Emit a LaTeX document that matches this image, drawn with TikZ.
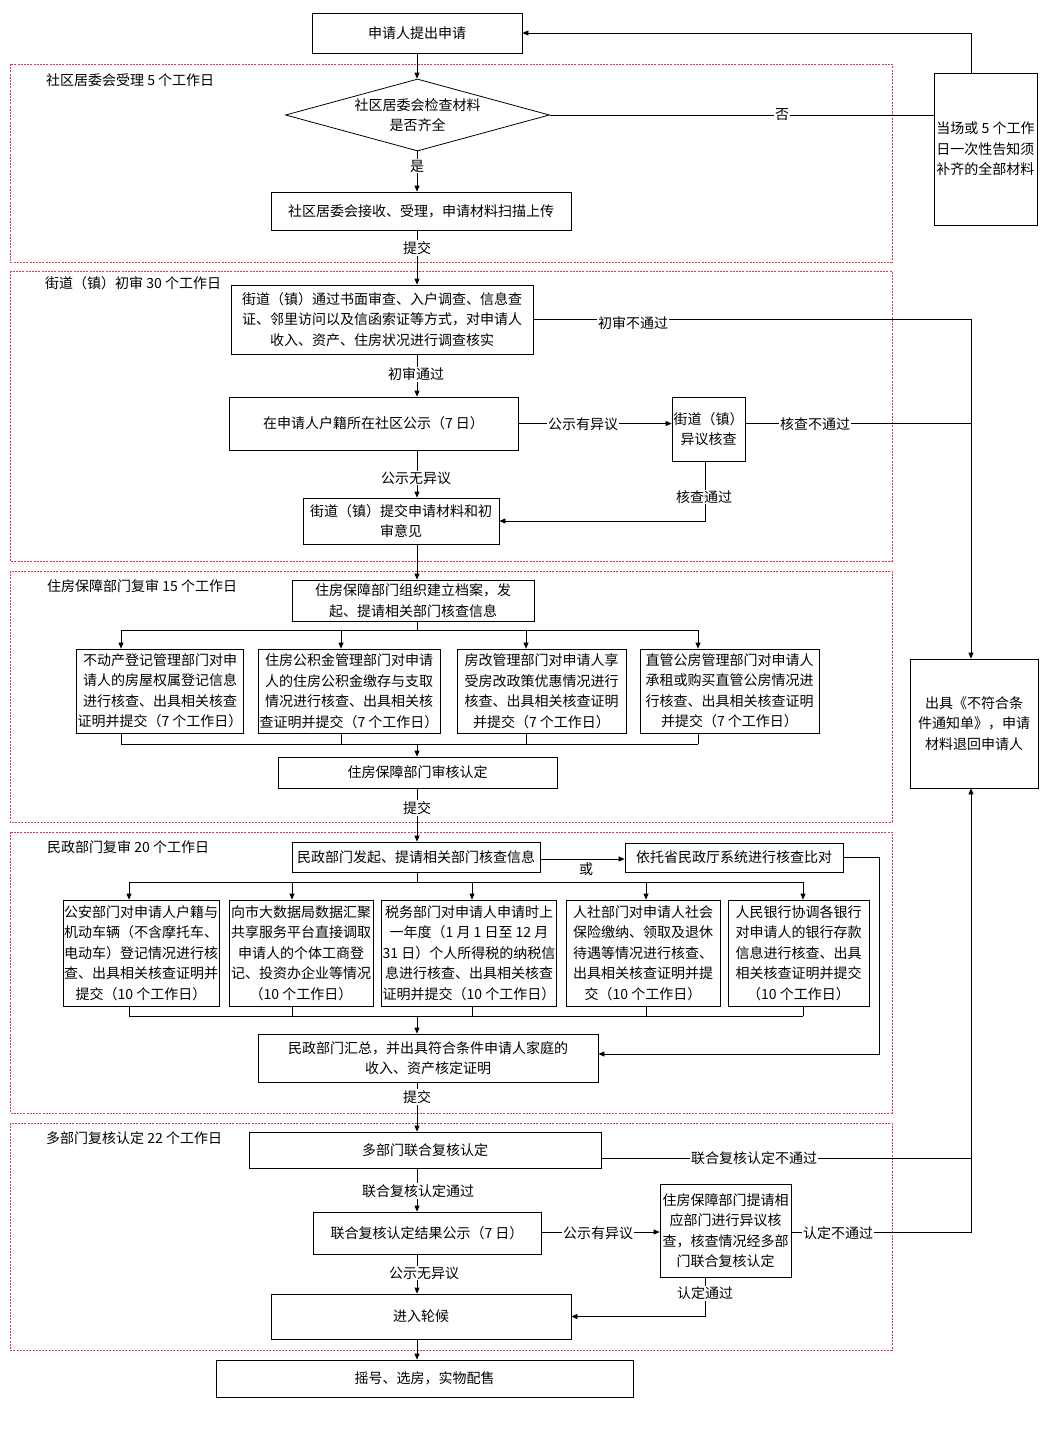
\documentclass[tikz,border=0pt]{standalone}
\usepackage{fontspec}
\setmainfont{Noto Sans CJK SC}
\usetikzlibrary{arrows.meta,shapes.geometric}
\newcommand\myfs{\fontsize{14pt}{20.5pt}\selectfont}
\definecolor{secred}{RGB}{215,60,80}
\begin{document}
\begin{tikzpicture}[x=1pt,y=-1pt,
 every node/.style={font=\myfs},
 box/.style={draw, line width=0.8pt, inner sep=1pt, align=center},
 bx/.style n args={2}{box, minimum width=#1, minimum height=#2},
 lbl/.style={fill=white, inner sep=1pt},
 ln/.style={line width=0.8pt},
 arr/.style={line width=0.8pt, -{Triangle[length=6pt,width=5pt]}},
 sec/.style={draw=secred, line width=0.7pt, dash pattern=on 2pt off 1.2pt},
 seclbl/.style={anchor=west, inner sep=0pt}]

\fill[white] (0,0) rectangle (1055,1441);
\useasboundingbox (0,0) rectangle (1055,1441);

% section frames
\draw[sec] (10,64) rectangle (892,262);
\draw[sec] (10,271) rectangle (892,561);
\draw[sec] (10,571) rectangle (892,822);
\draw[sec] (10,832) rectangle (892,1113);
\draw[sec] (10,1123) rectangle (892,1350);

\node[seclbl] (t1) at (46,80) {社区居委会受理 5 个工作日};
\node[seclbl] (t2) at (45,283) {街道（镇）初审 30 个工作日};
\node[seclbl] (t3) at (47,586) {住房保障部门复审 15 个工作日};
\node[seclbl] (t4) at (47,847) {民政部门复审 20 个工作日};
\node[seclbl] (t5) at (46,1138) {多部门复核认定 22 个工作日};

% helper coordinates
\coordinate (sp) at (417,0);
\coordinate (rx) at (971,0);
\coordinate (px) at (879,0);

% nodes
\node[bx={210pt}{40pt}] (apply) at (417,33) {申请人提出申请};
\node[draw, diamond, line width=0.8pt, aspect=3.6, minimum width=264pt, minimum height=72pt, inner sep=0pt, align=center] (check) at (417.5,115) {社区居委会检查材料\\是否齐全};
\node[bx={103pt}{152pt}, align=left] (notice) at (985.5,149) {当场或 5 个工作\\日一次性告知须\\补齐的全部材料};
\node[bx={300pt}{38pt}] (accept) at (421,211) {社区居委会接收、受理，申请材料扫描上传};

\node[bx={302pt}{69pt}] (street) at (382,319.5) {街道（镇）通过书面审查、入户调查、信息查\\证、邻里访问以及信函索证等方式，对申请人\\收入、资产、住房状况进行调查核实};
\node[bx={289pt}{53pt}] (publicize) at (373.5,423.5) {在申请人户籍所在社区公示（7 日）};
\node[bx={73pt}{64pt}] (objcheck) at (708.5,429) {街道（镇）\\异议核查};
\node[bx={196pt}{46pt}] (submit1) at (401,521) {街道（镇）提交申请材料和初\\审意见};

\node[bx={242pt}{41pt}] (archive) at (413,600.5) {住房保障部门组织建立档案，发\\起、提请相关部门核查信息};
\node[bx={166pt}{84pt}] (B1) at (160,691) {不动产登记管理部门对申\\请人的房屋权属登记信息\\进行核查、出具相关核查\\证明并提交（7 个工作日）};
\node[bx={182pt}{84pt}] (B2) at (349,691) {住房公积金管理部门对申请\\人的住房公积金缴存与支取\\情况进行核查、出具相关核\\查证明并提交（7 个工作日）};
\node[bx={169pt}{84pt}] (B3) at (541.5,691) {房改管理部门对申请人享\\受房改政策优惠情况进行\\核查、出具相关核查证明\\并提交（7 个工作日）};
\node[bx={179pt}{84pt}] (B4) at (729.5,691) {直管公房管理部门对申请人\\承租或购买直管公房情况进\\行核查、出具相关核查证明\\并提交（7 个工作日）};
\node[bx={279pt}{31pt}] (housing) at (417.5,772.5) {住房保障部门审核认定};

\node[bx={128pt}{129pt}] (reject) at (974,723.5) {出具《不符合条\\件通知单》，申请\\材料退回申请人};

\node[bx={248pt}{30pt}] (civil) at (416,857) {民政部门发起、提请相关部门核查信息};
\node[bx={218pt}{29pt}] (province) at (734,857.5) {依托省民政厅系统进行核查比对};
\node[bx={156pt}{106pt}] (C1) at (141,953) {公安部门对申请人户籍与\\机动车辆（不含摩托车、\\电动车）登记情况进行核\\查、出具相关核查证明并\\提交（10 个工作日）};
\node[bx={144pt}{106pt}] (C2) at (301,953) {向市大数据局数据汇聚\\共享服务平台直接调取\\申请人的个体工商登\\记、投资办企业等情况\\（10 个工作日）};
\node[bx={174pt}{106pt}] (C3) at (469,953) {税务部门对申请人申请时上\\一年度（1 月 1 日至 12 月\\31 日）个人所得税的纳税信\\息进行核查、出具相关核查\\证明并提交（10 个工作日）};
\node[bx={154pt}{106pt}] (C4) at (643,953) {人社部门对申请人社会\\保险缴纳、领取及退休\\待遇等情况进行核查、\\出具相关核查证明并提\\交（10 个工作日）};
\node[bx={141pt}{106pt}] (C5) at (798.5,953) {人民银行协调各银行\\对申请人的银行存款\\信息进行核查、出具\\相关核查证明并提交\\（10 个工作日）};
\node[bx={340pt}{48pt}] (summary) at (428,1058) {民政部门汇总，并出具符合条件申请人家庭的\\收入、资产核定证明};

\node[bx={352pt}{36pt}] (joint) at (425,1150) {多部门联合复核认定};
\node[bx={228pt}{42pt}] (jointpub) at (427,1233) {联合复核认定结果公示（7 日）};
\node[bx={131pt}{93pt}] (objverify) at (725.5,1230.5) {住房保障部门提请相\\应部门进行异议核\\查，核查情况经多部\\门联合复核认定};
\node[bx={300pt}{45pt}] (queue) at (421,1316.5) {进入轮候};
\node[bx={417pt}{37pt}] (lottery) at (424.5,1378.5) {摇号、选房，实物配售};

% bus coordinates
\coordinate (ha1) at (121,630);
\coordinate (ha2) at (341,630);
\coordinate (ha3) at (526,630);
\coordinate (ha4) at (698,630);
\coordinate (hb1) at (121,744);
\coordinate (hb2) at (341,744);
\coordinate (hb3) at (526,744);
\coordinate (hb4) at (698,744);
\coordinate (ca1) at (129,882);
\coordinate (ca2) at (292,882);
\coordinate (ca3) at (472,882);
\coordinate (ca4) at (646,882);
\coordinate (ca5) at (803,882);
\coordinate (cb1) at (129,1016);
\coordinate (cb2) at (292,1016);
\coordinate (cb3) at (472,1016);
\coordinate (cb4) at (646,1016);
\coordinate (cb5) at (803,1016);

% connectors: section 1
\draw[arr] (sp |- apply.south) -- (sp |- check.north);
\draw[arr] (sp |- check.south) -- (sp |- accept.north);
\draw[ln] (check.east) -- (notice.west |- check.east);
\draw[arr] (rx |- notice.north) -- (rx |- apply.east) -- (apply.east);
\draw[arr] (sp |- accept.south) -- (sp |- street.north);

% section 2
\draw[arr] (street.east) -- (rx |- street.east) -- (rx |- reject.north);
\draw[arr] (sp |- street.south) -- (sp |- publicize.north);
\draw[arr] (publicize.east) -- (objcheck.west |- publicize.east);
\draw[ln] (objcheck.east |- publicize.east) -- (rx |- publicize.east);
\draw[arr] ([xshift=-3.5pt]objcheck.south) |- (submit1.east);
\draw[arr] (sp |- publicize.south) -- (sp |- submit1.north);
\draw[arr] (sp |- submit1.south) -- (sp |- archive.north);

% section 3
\draw[ln] (sp |- archive.south) -- (sp |- ha1);
\draw[ln] (ha1) -- (ha4);
\draw[arr] (ha1) -- (ha1 |- B1.north);
\draw[arr] (ha2) -- (ha2 |- B2.north);
\draw[arr] (ha3) -- (ha3 |- B3.north);
\draw[arr] (ha4) -- (ha4 |- B4.north);
\draw[ln] (hb1 |- B1.south) -- (hb1);
\draw[ln] (hb2 |- B2.south) -- (hb2);
\draw[ln] (hb3 |- B3.south) -- (hb3);
\draw[ln] (hb4 |- B4.south) -- (hb4);
\draw[ln] (hb1) -- (hb4);
\draw[arr] (sp |- hb1) -- (sp |- housing.north);
\draw[arr] (sp |- housing.south) -- (sp |- civil.north);

% section 4
\draw[arr] ([yshift=-2pt]civil.east) -- ([yshift=-2pt]province.west |- civil.east);
\draw[arr] (province.east) -- (px |- province.east) -- ([yshift=4pt]px |- summary.east) -- ([yshift=4pt]summary.east);
\draw[ln] (sp |- civil.south) -- (sp |- ca1);
\draw[ln] (ca1) -- (ca5);
\draw[arr] (ca1) -- (ca1 |- C1.north);
\draw[arr] (ca2) -- (ca2 |- C2.north);
\draw[arr] (ca3) -- (ca3 |- C3.north);
\draw[arr] (ca4) -- (ca4 |- C4.north);
\draw[arr] (ca5) -- (ca5 |- C5.north);
\draw[ln] (cb1 |- C1.south) -- (cb1);
\draw[ln] (cb2 |- C2.south) -- (cb2);
\draw[ln] (cb3 |- C3.south) -- (cb3);
\draw[ln] (cb4 |- C4.south) -- (cb4);
\draw[ln] (cb5 |- C5.south) -- (cb5);
\draw[ln] (cb1) -- (cb5);
\draw[arr] (sp |- cb1) -- (sp |- summary.north);
\draw[arr] (sp |- summary.south) -- (sp |- joint.north);

% section 5
\draw[ln] ([yshift=-8pt]joint.east) -- ([yshift=-8pt]rx |- joint.east);
\draw[arr] (sp |- joint.south) -- (sp |- jointpub.north);
\draw[arr] ([yshift=1pt]jointpub.east) -- ([yshift=1pt]objverify.west |- jointpub.east);
\draw[arr] ([yshift=1pt]objverify.east |- jointpub.east) -- ([yshift=1pt]rx |- jointpub.east) -- (rx |- reject.south);
\draw[arr] ([xshift=-20.5pt]objverify.south) |- (queue.east);
\draw[arr] (sp |- jointpub.south) -- (sp |- queue.north);
\draw[arr] (sp |- queue.south) -- (sp |- lottery.north);

% labels
\node[lbl] (l1) at (417,166) {是};
\node[lbl] (l2) at (782,115) {否};
\node[lbl] (l3) at (417,248) {提交};
\node[lbl] (l4) at (633,323) {初审不通过};
\node[lbl] (l5) at (416,374) {初审通过};
\node[lbl] (l6) at (583,424) {公示有异议};
\node[lbl] (l7) at (815,424) {核查不通过};
\node[lbl] (l8) at (704,497) {核查通过};
\node[lbl] (l9) at (416,478) {公示无异议};
\node[lbl] (l10) at (417,808) {提交};
\node[inner sep=1pt] (l11) at (586,869) {或};
\node[lbl] (l12) at (417,1097) {提交};
\node[lbl] (l13) at (754,1158) {联合复核认定不通过};
\node[lbl] (l14) at (418,1191) {联合复核认定通过};
\node[lbl] (l15) at (598,1233) {公示有异议};
\node[lbl] (l16) at (838,1233) {认定不通过};
\node[lbl] (l17) at (705,1293) {认定通过};
\node[lbl] (l18) at (424,1273) {公示无异议};
\end{tikzpicture}
\end{document}
